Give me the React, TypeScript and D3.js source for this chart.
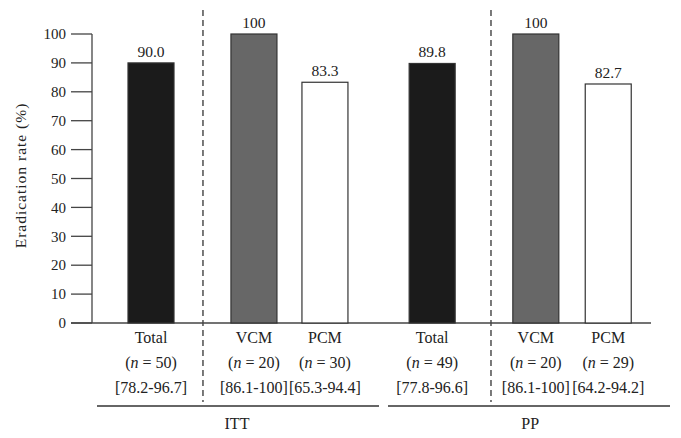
import * as d3 from "d3";
import React, { useEffect, useRef } from "react";

const W = 681;
const H = 438;

const groups = ["ITT", "PP"];
const categories = ["Total", "VCM", "PCM", "Total", "VCM", "PCM"];
const groupOf = [0, 0, 0, 1, 1, 1];
const values = [90.0, 100, 83.3, 89.8, 100, 82.7];
const valueLabels = ["90.0", "100", "83.3", "89.8", "100", "82.7"];
const nCounts = [50, 20, 30, 49, 20, 29];
const ciLabels = ["[78.2-96.7]", "[86.1-100]", "[65.3-94.4]", "[77.8-96.6]", "[86.1-100]", "[64.2-94.2]"];
const yTicks = [0, 10, 20, 30, 40, 50, 60, 70, 80, 90, 100];

// slot positions along the x axis (in category units)
const slots = [0, 1.45, 2.45, 3.96, 5.42, 6.44];
const fills = ["#1b1b1b", "#676767", "#ffffff", "#1b1b1b", "#676767", "#ffffff"];

const FONT = "'Liberation Serif', 'DejaVu Serif', serif";

export default function App() {
    const svgRef = useRef<SVGSVGElement | null>(null);

    useEffect(() => {
        if (!svgRef.current) return;
        const svg = d3.select(svgRef.current);
        svg.selectAll("*").remove();

        const y = d3.scaleLinear().domain([0, 100]).range([323, 34]);
        const x = d3.scaleLinear().domain([0, 1]).range([151, 222]);
        const barW = 46;
        const axisX = 92;

        const g = svg.append("g").attr("font-family", FONT).attr("fill", "#222");

        /* ---------- dashed separators ---------- */
        [(x(slots[0]) + x(slots[1])) / 2 + 0.5, (x(slots[3]) + x(slots[4])) / 2 + 7].forEach((sx) => {
            g.append("line")
                .attr("x1", sx).attr("x2", sx)
                .attr("y1", 10).attr("y2", 402)
                .attr("stroke", "#333")
                .attr("stroke-width", 1.3)
                .attr("stroke-dasharray", "6,4");
        });

        /* ---------- axes ---------- */
        g.append("line")
            .attr("x1", axisX).attr("x2", axisX)
            .attr("y1", y(100)).attr("y2", y(0))
            .attr("stroke", "#444").attr("stroke-width", 1.3);
        g.append("line")
            .attr("x1", 71).attr("x2", 651)
            .attr("y1", y(0)).attr("y2", y(0))
            .attr("stroke", "#444").attr("stroke-width", 1.3);

        yTicks.forEach((t) => {
            g.append("line")
                .attr("x1", 71).attr("x2", axisX)
                .attr("y1", y(t)).attr("y2", y(t))
                .attr("stroke", "#444").attr("stroke-width", 1.3);
            g.append("text")
                .attr("x", 66)
                .attr("y", y(t))
                .attr("dy", "0.35em")
                .attr("text-anchor", "end")
                .attr("font-size", 15)
                .text(t);
        });

        g.append("text")
            .attr("transform", `translate(21,${y(50) - 3}) rotate(-90)`)
            .attr("text-anchor", "middle")
            .attr("dy", "0.35em")
            .attr("font-size", 15.5)
            .attr("letter-spacing", 1)
            .text("Eradication rate (%)");

        /* ---------- bars ---------- */
        values.forEach((v, i) => {
            const cx = x(slots[i]);
            g.append("rect")
                .attr("x", cx - barW / 2)
                .attr("y", y(v))
                .attr("width", barW)
                .attr("height", y(0) - y(v))
                .attr("fill", fills[i])
                .attr("stroke", "#333")
                .attr("stroke-width", 1.2);
            g.append("text")
                .attr("x", cx)
                .attr("y", y(v) - 6)
                .attr("text-anchor", "middle")
                .attr("font-size", 15.5)
                .text(valueLabels[i]);

            g.append("text")
                .attr("x", cx)
                .attr("y", 343)
                .attr("text-anchor", "middle")
                .attr("font-size", 16)
                .text(categories[i]);

            const nt = g.append("text")
                .attr("x", cx)
                .attr("y", 368)
                .attr("text-anchor", "middle")
                .attr("font-size", 16);
            nt.append("tspan").text("(");
            nt.append("tspan").attr("font-style", "italic").text("n");
            nt.append("tspan").text(` = ${nCounts[i]})`);

            g.append("text")
                .attr("x", cx)
                .attr("y", 393)
                .attr("text-anchor", "middle")
                .attr("font-size", 16)
                .text(ciLabels[i]);
        });

        /* ---------- group brackets ---------- */
        const spans: [number, number][] = [[97, 379], [388, 670]];
        groups.forEach((name, gi) => {
            const [a, b] = spans[gi];
            g.append("line")
                .attr("x1", a).attr("x2", b)
                .attr("y1", 406).attr("y2", 406)
                .attr("stroke", "#333").attr("stroke-width", 1.3);
            const idx = groupOf.map((gg, i) => (gg === gi ? i : -1)).filter((i) => i >= 0);
            const mid = (x(slots[idx[0]]) + x(slots[idx[idx.length - 1]])) / 2;
            g.append("text")
                .attr("x", gi === 0 ? mid - 1 : mid + 10)
                .attr("y", 429)
                .attr("text-anchor", "middle")
                .attr("font-size", 16)
                .text(name);
        });
    }, []);

    return <svg ref={svgRef} width={W} height={H} style={{ position: "absolute", left: 0, top: 0 }} />;
}
